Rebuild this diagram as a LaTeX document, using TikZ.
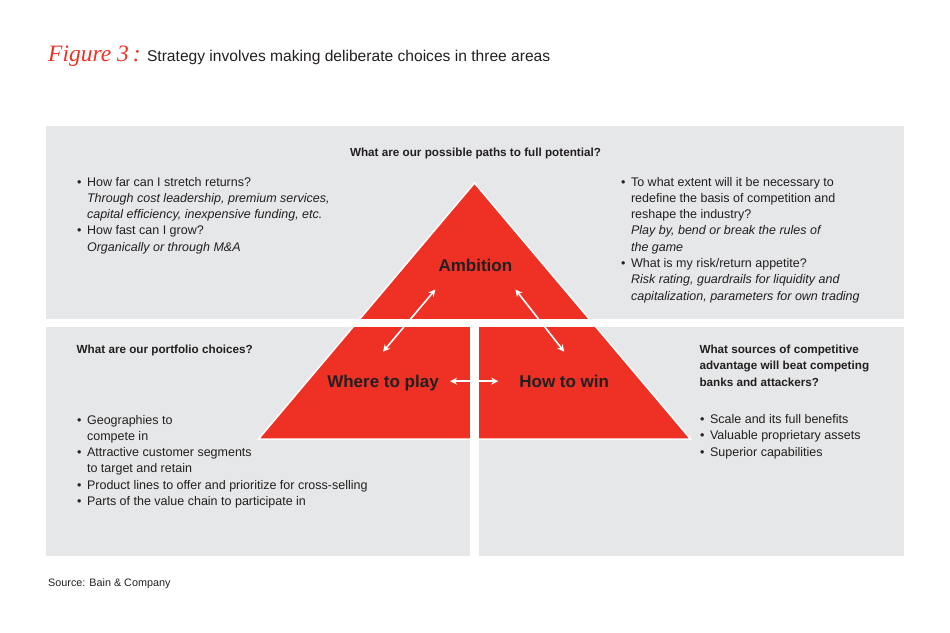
\documentclass[tikz,border=0pt]{standalone}
\usepackage{fontspec}
\setmainfont{Liberation Sans}
\newfontfamily\handfont{Liberation Serif}
\usetikzlibrary{positioning,arrows.meta}
\definecolor{bainred}{HTML}{EE3124}
\definecolor{panelgray}{HTML}{E6E7E8}
\definecolor{ink}{HTML}{231F20}
\tikzset{panel/.style={fill=panelgray,draw=none}}
\tikzset{gap/.style={fill=white,draw=none}}
\tikzset{pyramid/.style={fill=bainred,draw=white,line width=1.5pt,line join=miter}}
\tikzset{face/.style={inner sep=0pt,outer sep=0pt,text=ink,text height=12.5pt,text depth=0pt,font=\fontsize{17}{20}\selectfont\bfseries}}
\tikzset{link/.style={draw=white,line width=1.6pt,{Stealth[length=7pt,width=7pt]}-{Stealth[length=7pt,width=7pt]}}}
\tikzset{body/.style={inner sep=0pt,text=ink,anchor=base west,align=left,font=\fontsize{12.5}{16.3}\selectfont}}
\tikzset{head/.style={body,font=\fontsize{11.7}{16.3}\selectfont\bfseries}}
\newcommand{\bul}{\textbullet}
\newcommand{\blist}[1]{\begin{tabular}[t]{@{}l@{\hspace{5.5pt}}l@{}}#1\end{tabular}}
\newcommand{\tlines}[1]{\begin{tabular}[t]{@{}l@{}}#1\end{tabular}}

\begin{document}
\begin{tikzpicture}[x=1pt,y=-1pt]
    \useasboundingbox (0,0) rectangle (950,632);

    % title
    \node[anchor=base west,inner sep=0pt,text=bainred,font=\handfont\itshape\fontsize{23.5}{26}\selectfont] (fig) at (48,61) {Figure 3\,:};
    \node[right=6pt of fig.base east,anchor=base west,inner sep=0pt,text=ink,font=\fontsize{15.6}{18}\selectfont] (title) {Strategy involves making deliberate choices in three areas};

    % panels
    \path[panel] (46,126) rectangle (904,319);
    \path[panel] (46,327) rectangle (470,556);
    \path[panel] (479,327) rectangle (904,556);

    % pyramid
    \path[pyramid] (474.5,183) -- (258.5,439) -- (690.5,439) -- cycle;
    \path[gap] (46,319) rectangle (904,327);
    \path[gap] (470,319) rectangle (479,556);

    \node[face,minimum width=80pt,minimum height=48pt] (amb) at (475.4,265.5) {Ambition};
    \node[face,minimum width=134pt,minimum height=59pt] (where) at (383,381.2) {Where to play};
    \node[face,minimum width=132pt,minimum height=59pt] (how) at (564.2,381.2) {How to win};

        \path[link] (amb.south west) -- (where.north);
        \path[link] (amb.south east) -- (how.north);
        \path[link] (where.east) -- (how.west);

    % texts
    \node[head,anchor=base] (toph) at (475.5,156) {What are our possible paths to full potential?};
    \node[body] (tl) at (77,186) {\blist{\bul & How far can I stretch returns?\\
        & \textit{Through cost leadership, premium services,}\\
        & \textit{capital efficiency, inexpensive funding, etc.}\\
        \bul & How fast can I grow?\\
        & \textit{Organically or through M\&A}}};
    \node[body] (tr) at (621,186) {\blist{\bul & To what extent will it be necessary to\\
        & redefine the basis of competition and\\
        & reshape the industry?\\
        & \textit{Play by, bend or break the rules of}\\
        & \textit{the game}\\
        \bul & What is my risk/return appetite?\\
        & \textit{Risk rating, guardrails for liquidity and}\\
        & \textit{capitalization, parameters for own trading}}};

    \node[head] (blh) at (76.5,353.5) {What are our portfolio choices?};
    \node[body] (bl) at (77,424) {\blist{\bul & Geographies to\\
        & compete in\\
        \bul & Attractive customer segments\\
        & to target and retain\\
        \bul & Product lines to offer and prioritize for cross-selling\\
        \bul & Parts of the value chain to participate in}};

    \node[head] (brh) at (699.3,353.5) {\tlines{What sources of competitive\\advantage will beat competing\\banks and attackers?}};
    \node[body] (br) at (700,423.5) {\blist{\bul & Scale and its full benefits\\
        \bul & Valuable proprietary assets\\
        \bul & Superior capabilities}};

    \node[body,font=\fontsize{10.8}{13}\selectfont] (src) at (48,586) {Source: Bain \& Company};
\end{tikzpicture}
\end{document}
